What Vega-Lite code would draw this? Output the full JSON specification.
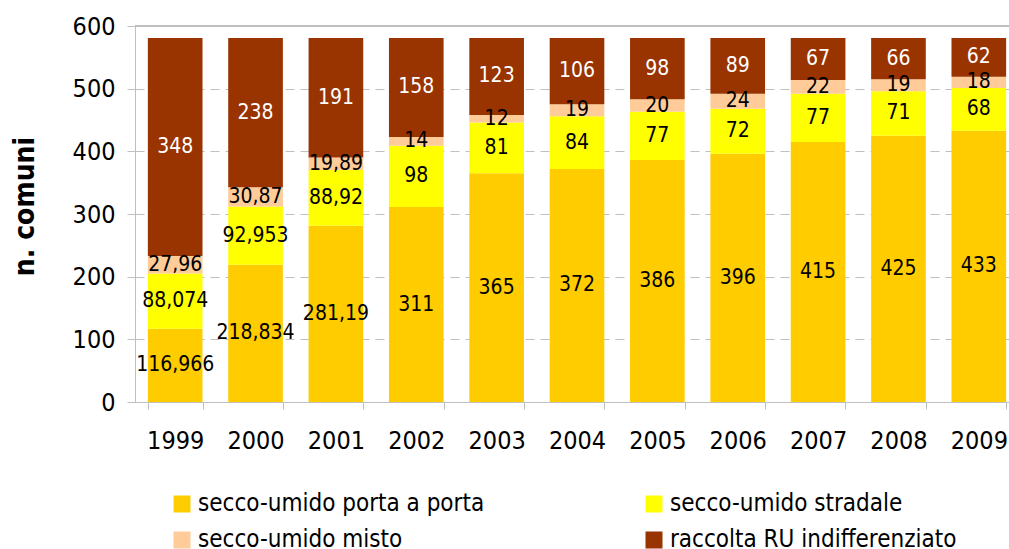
{
  "$schema": "https://vega.github.io/schema/vega-lite/v6.json",
  "autosize": {"type": "none"},
  "padding": {"left": 135, "top": 26, "right": 0, "bottom": 147},
  "width": 884,
  "height": 376,
  "config": {
    "locale": {"number": {"decimal": ",", "thousands": ".", "grouping": [3], "currency": ["€", ""]}},
    "font": "DejaVu Sans Condensed, Liberation Sans, sans-serif",
    "view": {"stroke": null}
  },
  "data": {
    "values": [
      {"year": "1999", "k": 1, "cat": "secco-umido porta a porta", "v": 116.966},
      {"year": "1999", "k": 2, "cat": "secco-umido stradale", "v": 88.074},
      {"year": "1999", "k": 3, "cat": "secco-umido misto", "v": 27.96},
      {"year": "1999", "k": 4, "cat": "raccolta RU indifferenziato", "v": 348},
      {"year": "2000", "k": 1, "cat": "secco-umido porta a porta", "v": 218.834},
      {"year": "2000", "k": 2, "cat": "secco-umido stradale", "v": 92.953},
      {"year": "2000", "k": 3, "cat": "secco-umido misto", "v": 30.87},
      {"year": "2000", "k": 4, "cat": "raccolta RU indifferenziato", "v": 238},
      {"year": "2001", "k": 1, "cat": "secco-umido porta a porta", "v": 281.19},
      {"year": "2001", "k": 2, "cat": "secco-umido stradale", "v": 88.92},
      {"year": "2001", "k": 3, "cat": "secco-umido misto", "v": 19.89},
      {"year": "2001", "k": 4, "cat": "raccolta RU indifferenziato", "v": 191},
      {"year": "2002", "k": 1, "cat": "secco-umido porta a porta", "v": 311},
      {"year": "2002", "k": 2, "cat": "secco-umido stradale", "v": 98},
      {"year": "2002", "k": 3, "cat": "secco-umido misto", "v": 14},
      {"year": "2002", "k": 4, "cat": "raccolta RU indifferenziato", "v": 158},
      {"year": "2003", "k": 1, "cat": "secco-umido porta a porta", "v": 365},
      {"year": "2003", "k": 2, "cat": "secco-umido stradale", "v": 81},
      {"year": "2003", "k": 3, "cat": "secco-umido misto", "v": 12},
      {"year": "2003", "k": 4, "cat": "raccolta RU indifferenziato", "v": 123},
      {"year": "2004", "k": 1, "cat": "secco-umido porta a porta", "v": 372},
      {"year": "2004", "k": 2, "cat": "secco-umido stradale", "v": 84},
      {"year": "2004", "k": 3, "cat": "secco-umido misto", "v": 19},
      {"year": "2004", "k": 4, "cat": "raccolta RU indifferenziato", "v": 106},
      {"year": "2005", "k": 1, "cat": "secco-umido porta a porta", "v": 386},
      {"year": "2005", "k": 2, "cat": "secco-umido stradale", "v": 77},
      {"year": "2005", "k": 3, "cat": "secco-umido misto", "v": 20},
      {"year": "2005", "k": 4, "cat": "raccolta RU indifferenziato", "v": 98},
      {"year": "2006", "k": 1, "cat": "secco-umido porta a porta", "v": 396},
      {"year": "2006", "k": 2, "cat": "secco-umido stradale", "v": 72},
      {"year": "2006", "k": 3, "cat": "secco-umido misto", "v": 24},
      {"year": "2006", "k": 4, "cat": "raccolta RU indifferenziato", "v": 89},
      {"year": "2007", "k": 1, "cat": "secco-umido porta a porta", "v": 415},
      {"year": "2007", "k": 2, "cat": "secco-umido stradale", "v": 77},
      {"year": "2007", "k": 3, "cat": "secco-umido misto", "v": 22},
      {"year": "2007", "k": 4, "cat": "raccolta RU indifferenziato", "v": 67},
      {"year": "2008", "k": 1, "cat": "secco-umido porta a porta", "v": 425},
      {"year": "2008", "k": 2, "cat": "secco-umido stradale", "v": 71},
      {"year": "2008", "k": 3, "cat": "secco-umido misto", "v": 19},
      {"year": "2008", "k": 4, "cat": "raccolta RU indifferenziato", "v": 66},
      {"year": "2009", "k": 1, "cat": "secco-umido porta a porta", "v": 433},
      {"year": "2009", "k": 2, "cat": "secco-umido stradale", "v": 68},
      {"year": "2009", "k": 3, "cat": "secco-umido misto", "v": 18},
      {"year": "2009", "k": 4, "cat": "raccolta RU indifferenziato", "v": 62}
    ]
  },
  "layer": [
    {
      "mark": {"type": "bar"},
      "encoding": {
        "x": {
          "field": "year", "type": "ordinal",
          "scale": {"paddingInner": 0.32, "paddingOuter": 0.16},
          "axis": {
            "title": null, "labelAngle": 0, "labelFontSize": 25, "labelColor": "black",
            "tickBand": "extent", "tickSize": 7, "tickColor": "#BFBFBF",
            "domainColor": "#BFBFBF", "labelPadding": 19
          }
        },
        "y": {
          "field": "v", "type": "quantitative", "stack": "zero",
          "scale": {"domain": [0, 600]},
          "axis": {
            "values": [0, 100, 200, 300, 400, 500, 600],
            "labelFontSize": 25, "labelColor": "black", "labelPadding": 12,
            "tickSize": 8, "tickColor": "#BFBFBF", "domainColor": "#BFBFBF",
            "gridColor": "#BFBFBF", "gridDash": [9, 6],
            "title": "n. comuni", "titleFontSize": 28, "titleFontWeight": "bold",
            "titleColor": "black", "titleX": -102, "titleY": 180,
            "titleAngle": 270, "titleAlign": "center", "titleBaseline": "alphabetic"
          }
        },
        "order": {"field": "k", "type": "quantitative", "sort": "ascending"},
        "color": {
          "field": "cat", "type": "nominal",
          "scale": {
            "domain": ["secco-umido porta a porta", "secco-umido stradale", "secco-umido misto", "raccolta RU indifferenziato"],
            "range": ["#FFCC00", "#FFFF00", "#FFCC99", "#993300"]
          },
          "legend": {
            "title": null, "orient": "none", "legendX": 35, "legendY": 466,
            "values": ["secco-umido porta a porta", "secco-umido misto", "secco-umido stradale", "raccolta RU indifferenziato"],
            "columns": 2, "columnPadding": 157, "rowPadding": 12,
            "symbolType": "square", "symbolSize": 289, "symbolStrokeWidth": 0,
            "labelFontSize": 24, "labelOffset": 4, "labelColor": "black", "labelLimit": 600
          }
        }
      }
    },
    {
      "mark": {"type": "text", "fontSize": 21, "baseline": "middle"},
      "encoding": {
        "x": {"field": "year", "type": "ordinal"},
        "y": {"field": "v", "type": "quantitative", "stack": "zero", "bandPosition": 0.5},
        "order": {"field": "k", "type": "quantitative", "sort": "ascending"},
        "text": {"field": "v", "type": "quantitative", "format": "~r"},
        "color": {
          "field": "cat", "type": "nominal",
          "scale": {
            "domain": ["secco-umido porta a porta", "secco-umido stradale", "secco-umido misto", "raccolta RU indifferenziato"],
            "range": ["#000000", "#000000", "#000000", "#FFFFFF"]
          },
          "legend": null
        }
      }
    },
    {
      "mark": {"type": "rule", "color": "#BFBFBF"},
      "encoding": {"y": {"datum": 600}}
    }
  ],
  "resolve": {"scale": {"color": "independent"}}
}
